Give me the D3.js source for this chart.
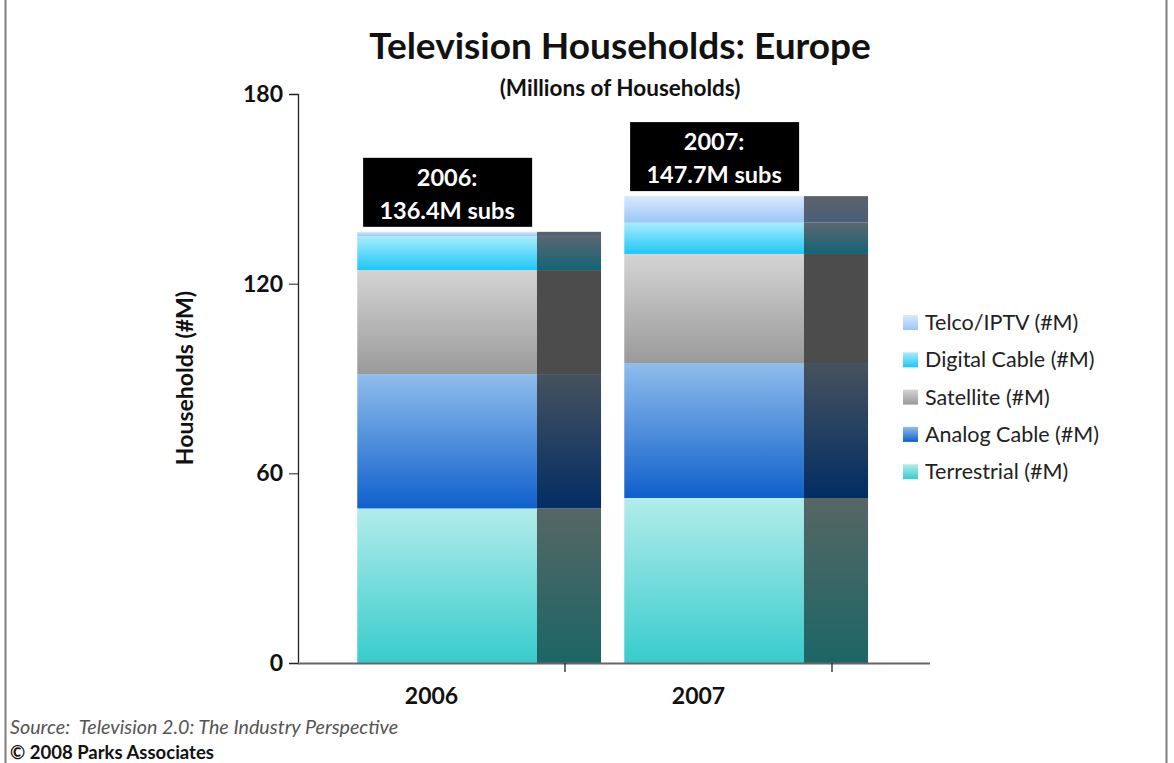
<!DOCTYPE html>
<html>
<head>
<meta charset="utf-8">
<script src="https://cdn.jsdelivr.net/npm/d3@7"></script>
<style>
  html, body { margin: 0; padding: 0; background: #fff; }
  svg { display: block; }
  text { font-family: Lato, "Open Sans", sans-serif; }
</style>
</head>
<body>
<svg id="chart" width="1174" height="763"></svg>
<script>
// ---- data ----
const years = ["2006", "2007"];
const seriesNames = ["Terrestrial (#M)", "Analog Cable (#M)", "Satellite (#M)", "Digital Cable (#M)", "Telco/IPTV (#M)"];
const terrestrial = [48.9, 52.2];
const analogCable = [42.5, 42.7];
const satellite = [32.9, 34.5];
const digitalCable = [10.8, 9.9];
const telcoIPTV = [1.3, 8.4];
const totalLabels = ["2006:|136.4M subs", "2007:|147.7M subs"];
const totals = [136.4, 147.7];
const yTicks = [0, 60, 120, 180];

// ---- styles ----
const mainGrad = [
  ["#b2eceb", "#38cccc"],
  ["#90bdec", "#0f60cc"],
  ["#d4d4d4", "#9a9a9a"],
  ["#aaecfc", "#1cc8f8"],
  ["#dae9fc", "#9ac6f8"]
];
const shadowGrad = [
  ["#566664", "#1c6666"],
  ["#46525e", "#032d64"],
  ["#4c4c4c", "#4c4c4c"],
  ["#5c6670", "#126478"],
  ["#5e6268", "#4a5f7a"]
];

const svg = d3.select("#chart");
const defs = svg.append("defs");
mainGrad.forEach((c, i) => {
  const g = defs.append("linearGradient").attr("id", "g" + i).attr("x1", 0).attr("y1", 0).attr("x2", 0).attr("y2", 1);
  g.append("stop").attr("offset", "0%").attr("stop-color", c[0]);
  g.append("stop").attr("offset", "100%").attr("stop-color", c[1]);
});
shadowGrad.forEach((c, i) => {
  const g = defs.append("linearGradient").attr("id", "s" + i).attr("x1", 0).attr("y1", 0).attr("x2", 0).attr("y2", 1);
  g.append("stop").attr("offset", "0%").attr("stop-color", c[0]);
  g.append("stop").attr("offset", "100%").attr("stop-color", c[1]);
});

// frame
svg.append("line").attr("x1", 5.5).attr("x2", 5.5).attr("y1", 0).attr("y2", 763).attr("stroke", "#7f7f7f").attr("stroke-width", 2);
svg.append("line").attr("x1", 1166.5).attr("x2", 1166.5).attr("y1", 0).attr("y2", 763).attr("stroke", "#7f7f7f").attr("stroke-width", 2);

const plotLeft = 298, plotRight = 832, axisEnd = 930, plotTop = 94, plotBottom = 663;
const x = d3.scaleBand().domain(years).range([plotLeft, plotRight]).paddingInner(0).paddingOuter(0);
const y = d3.scaleLinear().domain([0, 180]).range([plotBottom, plotTop]);

const seriesArrays = [terrestrial, analogCable, satellite, digitalCable, telcoIPTV];
const rows = years.map((yr, i) => {
  const o = { year: yr };
  seriesNames.forEach((s, k) => o[s] = seriesArrays[k][i]);
  return o;
});
const stacked = d3.stack().keys(seriesNames)(rows);

const bw = x.bandwidth();
const barOff = bw * 0.222, barW = bw * 0.673, shW = bw * 0.24;

const layers = svg.append("g").selectAll("g").data(stacked).join("g");
layers.selectAll("rect.main").data((d, k) => d.map(p => ({ p, k }))).join("rect")
  .attr("class", "main")
  .attr("x", d => x(d.p.data.year) + barOff)
  .attr("width", barW)
  .attr("y", d => y(d.p[1]))
  .attr("height", d => y(d.p[0]) - y(d.p[1]))
  .attr("fill", d => `url(#g${d.k})`);
layers.selectAll("rect.shadow").data((d, k) => d.map(p => ({ p, k }))).join("rect")
  .attr("class", "shadow")
  .attr("x", d => x(d.p.data.year) + barOff + barW)
  .attr("width", shW)
  .attr("y", d => y(d.p[1]))
  .attr("height", d => y(d.p[0]) - y(d.p[1]))
  .attr("fill", d => `url(#s${d.k})`);

// axes
const yAxis = svg.append("g").attr("transform", `translate(${plotLeft},0)`)
  .call(d3.axisLeft(y).tickValues(yTicks).tickSize(9).tickPadding(6));
yAxis.select(".domain").attr("stroke", "#222").attr("stroke-width", 1.3);
yAxis.selectAll(".tick line").attr("stroke", "#222");
yAxis.selectAll("text").attr("font-size", 23).attr("font-weight", "bold").attr("fill", "#111");

const xAxis = svg.append("g").attr("transform", `translate(0,${plotBottom})`)
  .call(d3.axisBottom(x).tickSize(0).tickPadding(25));
xAxis.select(".domain").remove();
xAxis.selectAll("text").attr("font-size", 23).attr("font-weight", "bold").attr("fill", "#111").attr("dy", "0.71em");
svg.append("line").attr("x1", plotLeft).attr("x2", axisEnd).attr("y1", plotBottom + 0.5).attr("y2", plotBottom + 0.5).attr("stroke", "#666").attr("stroke-width", 2);
// category boundary ticks
svg.append("g").selectAll("line").data(years).join("line")
  .attr("x1", d => x(d) + bw).attr("x2", d => x(d) + bw)
  .attr("y1", plotBottom).attr("y2", plotBottom + 9).attr("stroke", "#222").attr("stroke-width", 1.3);

// total labels
const lab = svg.append("g").selectAll("g").data(years).join("g");
lab.append("rect")
  .attr("x", (d) => x(d) + barOff + barW / 2 - 84)
  .attr("width", 169)
  .attr("y", (d, i) => y(totals[i]) - 5 - 69)
  .attr("height", 69)
  .attr("fill", "#000");
lab.each(function (d, i) {
  const parts = totalLabels[i].split("|");
  const cx = x(d) + barOff + barW / 2;
  const by = y(totals[i]) - 5 - 69;
  d3.select(this).selectAll("text").data(parts).join("text")
    .attr("x", cx).attr("y", (t, j) => by + 28 + j * 33)
    .attr("text-anchor", "middle").attr("fill", "#fff")
    .attr("font-size", 23.5).attr("font-weight", "bold").text(t => t);
});

// titles
svg.append("text").attr("x", 620).attr("y", 59).attr("text-anchor", "middle")
  .attr("font-size", 37).attr("font-weight", "bold").attr("fill", "#111").text("Television Households: Europe");
svg.append("text").attr("x", 620).attr("y", 96).attr("text-anchor", "middle")
  .attr("font-size", 22.5).attr("font-weight", "bold").attr("fill", "#111").text("(Millions of Households)");
svg.append("text").attr("transform", "translate(193,378) rotate(-90)").attr("text-anchor", "middle")
  .attr("font-size", 23).attr("font-weight", "bold").attr("fill", "#111").text("Households (#M)");

// legend (reverse order)
const legendItems = seriesNames.map((s, k) => ({ s, k })).reverse();
const lg = svg.append("g").selectAll("g").data(legendItems).join("g")
  .attr("transform", (d, i) => `translate(903,${315 + i * 37.3})`);
lg.append("rect").attr("width", 15).attr("height", 15).attr("fill", d => `url(#g${d.k})`);
lg.append("text").attr("x", 22).attr("y", 15).attr("font-size", 21.5).attr("fill", "#222").text(d => d.s);

// footer
svg.append("text").attr("x", 10).attr("y", 734).attr("font-size", 19.7).attr("font-style", "italic")
  .style("white-space", "pre")
  .attr("fill", "#555").text("Source:  Television 2.0: The Industry Perspective");
svg.append("text").attr("x", 10).attr("y", 759).attr("font-size", 18.5).attr("font-weight", "bold")
  .attr("fill", "#111").text("© 2008 Parks Associates");
</script>
</body>
</html>
